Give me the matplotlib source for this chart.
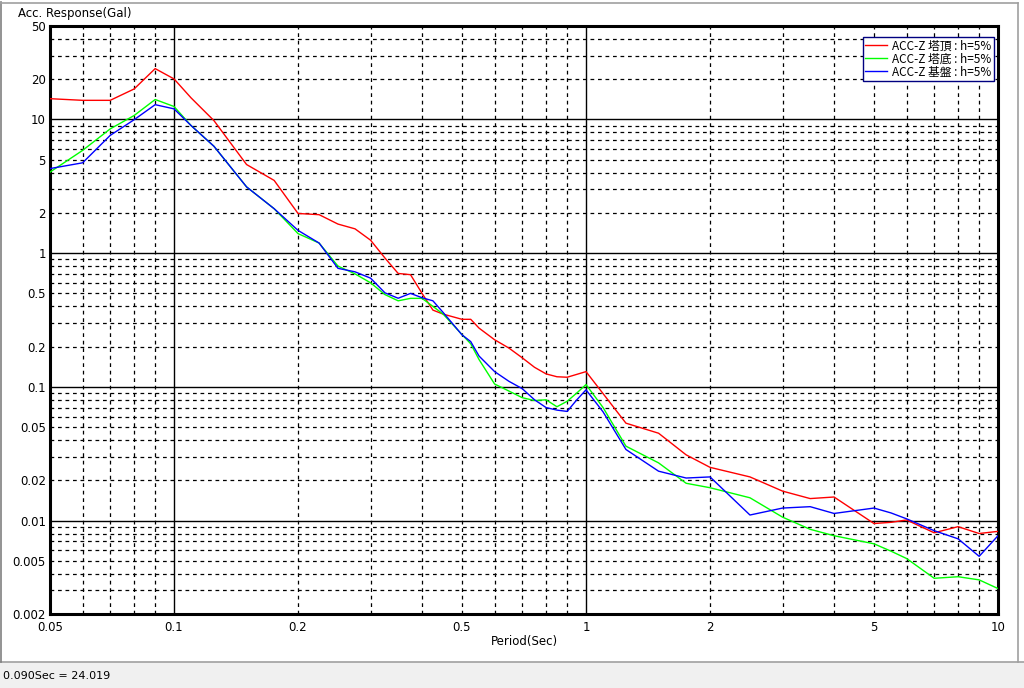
import matplotlib
matplotlib.use("Agg")
import matplotlib.pyplot as plt
from matplotlib.ticker import FixedLocator, FuncFormatter
from matplotlib.patches import Rectangle
from matplotlib.lines import Line2D

periods = [0.05, 0.06, 0.07, 0.08, 0.09, 0.10, 0.11, 0.125, 0.15, 0.175,
           0.20, 0.225, 0.25, 0.275, 0.30, 0.325, 0.35, 0.375, 0.40, 0.425,
           0.45, 0.50, 0.525, 0.55, 0.60, 0.65, 0.70, 0.75, 0.80, 0.85,
           0.90, 0.95, 1.0, 1.1, 1.25, 1.5, 1.75, 2.0, 2.5, 3.0,
           3.5, 4.0, 5.0, 5.5, 6.0, 7.0, 8.0, 9.0, 10.0]

acc_top = [14.3, 13.9, 13.9, 16.9, 24.0, 20.1, 14.5, 9.8, 4.6, 3.5,
           1.98, 1.94, 1.65, 1.52, 1.25, 0.92, 0.705, 0.69, 0.50, 0.375,
           0.35, 0.32, 0.32, 0.275, 0.225, 0.195, 0.165, 0.14, 0.125, 0.119,
           0.118, 0.124, 0.130, 0.089, 0.0535, 0.045, 0.031, 0.025, 0.0212, 0.0166,
           0.0146, 0.0150, 0.0095, 0.0097, 0.0101, 0.0081, 0.0090, 0.0080, 0.0083]

acc_base = [4.04, 5.87, 8.5, 10.7, 14.1, 12.5, 9.0, 6.3, 3.13, 2.15,
            1.40, 1.19, 0.80, 0.70, 0.60, 0.49, 0.44, 0.459, 0.459, 0.40,
            0.35, 0.246, 0.21, 0.16, 0.105, 0.093, 0.083, 0.079, 0.08, 0.071,
            0.078, 0.09, 0.104, 0.07, 0.036, 0.027, 0.019, 0.0176, 0.0148, 0.0106,
            0.0086, 0.0077, 0.0067, 0.0059, 0.0052, 0.0037, 0.0038, 0.0036, 0.0031]

acc_ground = [4.29, 4.74, 7.6, 9.95, 12.9, 12.0, 9.0, 6.3, 3.13, 2.15,
              1.48, 1.19, 0.77, 0.725, 0.65, 0.505, 0.46, 0.50, 0.464, 0.44,
              0.36, 0.245, 0.218, 0.17, 0.13, 0.11, 0.097, 0.08, 0.07, 0.067,
              0.0655, 0.08, 0.095, 0.065, 0.034, 0.0234, 0.0208, 0.0212, 0.011, 0.0124,
              0.0127, 0.0113, 0.0124, 0.0114, 0.0103, 0.0084, 0.0073, 0.0054, 0.0077]

series_labels = ["ACC-Z 塔頂 : h=5%", "ACC-Z 塔底 : h=5%", "ACC-Z 基盤 : h=5%"]
series_colors = ["#ff0000", "#00ff00", "#0000ff"]

x_labels = [0.05, 0.1, 0.2, 0.5, 1, 2, 5, 10]
y_labels = [0.002, 0.005, 0.01, 0.02, 0.05, 0.1, 0.2, 0.5, 1, 2, 5, 10, 20, 50]
status_text = "0.090Sec = 24.019"

plt.rcParams['font.family'] = ['DejaVu Sans']
FAM = ["Liberation Sans Narrow", "DejaVu Sans"]

W, H = 1024, 688
fig = plt.figure(figsize=(W / 100, H / 100), dpi=100)
fig.patch.set_facecolor("white")

# window decorations
fig.patches.append(Rectangle((0, 0), 1, 26 / H, transform=fig.transFigure,
                             facecolor="#f0f0f0", edgecolor="none", zorder=0))
fig.add_artist(Line2D([0, 1], [1 - 662 / H] * 2, transform=fig.transFigure,
                      color="#a0a0a0", lw=1.2))
fig.add_artist(Line2D([1 / W, 1 / W], [1 - 662 / H, 1 - 2 / H], transform=fig.transFigure,
                      color="#808080", lw=1.2))
fig.add_artist(Line2D([0, 1018 / W], [1 - 3 / H] * 2, transform=fig.transFigure,
                      color="#a0a0a0", lw=1.2))
fig.add_artist(Line2D([1018 / W] * 2, [1 - 662 / H, 1 - 3 / H], transform=fig.transFigure,
                      color="#a0a0a0", lw=1.2))
fig.text(3 / W, 1 - 676 / H, status_text, fontsize=8, va="center", ha="left", family=FAM)

left, right, top, bottom = 50, 998, 26, 614
ax = fig.add_axes([left / W, 1 - bottom / H, (right - left) / W, (bottom - top) / H])

for lab, col, vals in zip(series_labels, series_colors, [acc_top, acc_base, acc_ground]):
    ax.plot(periods, vals, color=col, lw=1.0, label=lab, zorder=3)

ax.set_xscale("log")
ax.set_yscale("log")
ax.set_xlim(0.05, 10)
ax.set_ylim(0.002, 50)

x_major = [0.1, 1, 10]
x_minor = [m * d for d in (0.01, 0.1, 1) for m in range(2, 10) if 0.05 <= m * d < 10]
y_major = [0.01, 0.1, 1, 10]
y_minor = [m * d for d in (0.001, 0.01, 0.1, 1, 10) for m in range(2, 10) if 0.002 <= m * d <= 50]

ax.xaxis.set_major_locator(FixedLocator(x_major))
ax.xaxis.set_minor_locator(FixedLocator(x_minor))
ax.yaxis.set_major_locator(FixedLocator(y_major))
ax.yaxis.set_minor_locator(FixedLocator(y_minor))


def fmt_val(v):
    return ("%.3f" % v).rstrip("0").rstrip(".")


def make_fmt(labels):
    def f(v, pos):
        for l in labels:
            if abs(v - l) / l < 1e-6:
                return fmt_val(l)
        return ""
    return FuncFormatter(f)


ax.xaxis.set_major_formatter(make_fmt(x_labels))
ax.xaxis.set_minor_formatter(make_fmt(x_labels))
ax.yaxis.set_major_formatter(make_fmt(y_labels))
ax.yaxis.set_minor_formatter(make_fmt(y_labels))

ax.tick_params(axis="both", which="both", length=0, labelsize=8.5)
ax.tick_params(axis="x", which="both", pad=5)
ax.tick_params(axis="y", which="both", pad=3)

ax.grid(which="major", color="black", lw=1.0, ls="-", zorder=1)
ax.grid(which="minor", color="black", lw=0.9, ls=(0, (3, 3)), zorder=1)
ax.set_axisbelow(True)

for sp in ax.spines.values():
    sp.set_linewidth(2.2)
    sp.set_color("black")

ax.set_xlabel("Period(Sec)", fontsize=8.5, labelpad=1, family=FAM)
fig.text(18 / W, 1 - 14 / H, "Acc. Response(Gal)", fontsize=8.5, va="center", ha="left",
         family=FAM)

leg = ax.legend(loc="upper right", bbox_to_anchor=(0.9955, 0.981), fancybox=False,
                framealpha=1, edgecolor="#000080", handlelength=1.9, handletextpad=0.4,
                borderpad=0.2, labelspacing=0.0, borderaxespad=0.0,
                prop=dict(family=["Noto Sans CJK JP", "DejaVu Sans"], size=8.5))
leg.get_frame().set_linewidth(1.0)
for t in ax.get_xticklabels(which="both") + ax.get_yticklabels(which="both"):
    t.set_fontfamily(FAM)

fig.savefig("out.png", dpi=100)
